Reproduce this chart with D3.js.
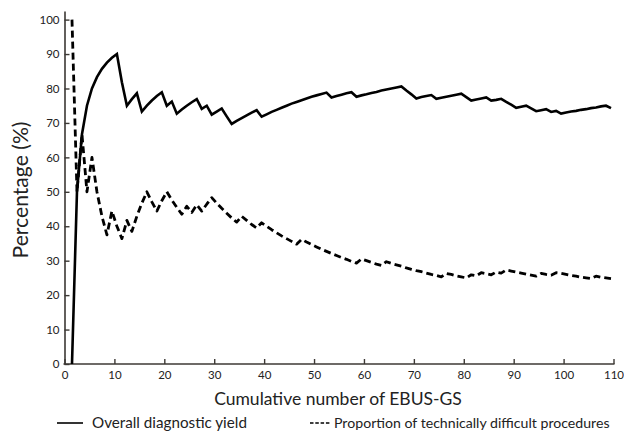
<!DOCTYPE html>
<html>
<head>
<meta charset="utf-8">
<script src="https://cdn.jsdelivr.net/npm/d3@7/dist/d3.min.js"></script>
<style>
  html, body { margin: 0; padding: 0; background: #fff; }
  svg { display: block; }
  text { font-family: Lato, "Open Sans", sans-serif; fill: #222; }
</style>
</head>
<body>
<svg id="chart" width="624" height="432"></svg>
<script>
// ---- data ----
const cases = [1,2,3,4,5,6,7,8,9,10,11,12,13,14,15,16,17,18,19,20,21,22,23,24,25,26,27,28,29,30,
  31,32,33,34,35,36,37,38,39,40,41,42,43,44,45,46,47,48,49,50,51,52,53,54,55,56,57,58,59,60,
  61,62,63,64,65,66,67,68,69,70,71,72,73,74,75,76,77,78,79,80,81,82,83,84,85,86,87,88,89,90,
  91,92,93,94,95,96,97,98,99,100,101,102,103,104,105,106,107,108,109];

const diagnosticYield = [0,50,66.7,75,80,83.3,85.7,87.5,88.9,90,81.8,75,76.9,78.6,73.3,75,76.5,77.8,78.9,75,
  76.2,72.7,73.9,75,76,76.9,74.1,75,72.4,73.3,74.2,71.9,69.7,70.6,71.4,72.2,73,73.7,71.8,72.5,
  73.2,73.8,74.4,75,75.6,76.1,76.6,77.1,77.6,78,78.4,78.8,77.4,77.8,78.2,78.6,78.9,77.6,78,78.3,
  78.7,79,79.4,79.7,80,80.3,80.6,79.4,78.3,77.1,77.5,77.8,78.1,77,77.3,77.6,77.9,78.2,78.5,77.5,
  76.5,76.8,77.1,77.4,76.5,76.7,77,76.1,75.3,74.4,74.7,75,74.2,73.4,73.7,74,73.2,73.5,72.7,73,
  73.3,73.5,73.8,74,74.3,74.5,74.8,75,74.3];

const difficultProportion = [100,50,66.7,50,60,50,42.9,37.5,44.4,40,36.4,41.7,38.5,42.9,46.7,50,47.1,44.4,47.4,50,
  47.6,45.5,43.5,45.8,44,46.2,44.4,46.4,48.3,46.7,45.2,43.8,42.4,41.2,42.9,41.7,40.5,39.5,41,40,
  39,38.1,37.2,36.4,35.6,34.8,36.2,35.4,34.7,34,33.3,32.7,32.1,31.5,30.9,30.4,29.8,29.3,30.5,30,
  29.5,29,28.6,29.7,29.2,28.8,28.4,27.9,27.5,27.1,26.8,26.4,26,25.7,25.3,26.3,26,25.6,25.3,25,
  25.9,25.6,26.5,26.2,25.9,26.7,26.4,27.3,27,26.7,26.4,26.1,25.8,25.5,26.3,26,25.8,26.5,26.3,26,
  25.7,25.5,25.2,25,24.8,25.5,25.2,25,24.8];

const xTicks = [0,10,20,30,40,50,60,70,80,90,100,110];
const yTicks = [0,10,20,30,40,50,60,70,80,90,100];
const xTitle = "Cumulative number of EBUS-GS";
const yTitle = "Percentage (%)";
const seriesNames = ["Overall diagnostic yield", "Proportion of technically difficult procedures"];

// ---- layout ----
const svg = d3.select("#chart");
const axisColor = "#3c3834";
const x = d3.scaleLinear().domain([0, 110]).range([64.5, 613.5]);
const y = d3.scaleLinear().domain([0, 102.5]).range([364, 11]);
const centre = 0.5; // points sit in the middle of each case slot

// axes
const gx = svg.append("g").attr("transform", `translate(0,${y(0)})`)
  .call(d3.axisBottom(x).tickValues(xTicks).tickSizeInner(-5).tickSizeOuter(0).tickPadding(7));
const gy = svg.append("g").attr("transform", `translate(${x(0)},0)`)
  .call(d3.axisLeft(y).tickValues(yTicks).tickSizeInner(-5).tickSizeOuter(0).tickPadding(5));
[gx, gy].forEach(g => {
  g.select(".domain").attr("stroke", axisColor).attr("stroke-width", 1.6);
  g.selectAll(".tick line").attr("stroke", axisColor).attr("stroke-width", 1.4);
  g.selectAll(".tick text").style("font-family", "Lato, 'Open Sans', sans-serif")
    .attr("font-size", 11.5).attr("fill", "#2a2a2a");
});
gx.select(".domain").attr("d", `M${x(0) - 1},0H${x(110) + 1}`);

// lines
const yieldData = cases.map((c, i) => ({ c, v: diagnosticYield[i] }));
const diffData = cases.map((c, i) => ({ c, v: difficultProportion[i] }));
const line = d3.line().x(d => x(d.c + centre)).y(d => y(d.v));

svg.append("path").datum(diffData).attr("d", line)
  .attr("fill", "none").attr("stroke", "#000").attr("stroke-width", 2.8)
  .attr("stroke-dasharray", "7,4").attr("stroke-linejoin", "round");
svg.append("path").datum(yieldData).attr("d", line)
  .attr("fill", "none").attr("stroke", "#000").attr("stroke-width", 2.6)
  .attr("stroke-linejoin", "miter");

// fit helper
function fit(t, target) {
  let fs = +t.attr("font-size");
  const w = t.node().getComputedTextLength();
  if (w > 0) t.attr("font-size", fs * target / w);
}

// titles
const xt = svg.append("text").attr("x", 338).attr("y", 405).attr("text-anchor", "middle")
  .attr("font-size", 17).attr("fill", "#111").text(xTitle);
fit(xt, 248);
const yt = svg.append("text").attr("transform", `translate(28,190) rotate(-90)`)
  .attr("text-anchor", "middle").attr("font-size", 17).attr("fill", "#111").text(yTitle);
fit(yt, 137);

// legend
const lg = svg.append("g");
lg.append("line").attr("x1", 57).attr("x2", 83).attr("y1", 423).attr("y2", 423)
  .attr("stroke", "#000").attr("stroke-width", 1.6);
const l1 = lg.append("text").attr("x", 92).attr("y", 427.5).attr("font-size", 13)
  .attr("fill", "#111").text(seriesNames[0]);
fit(l1, 155);
lg.append("line").attr("x1", 310).attr("x2", 331).attr("y1", 423).attr("y2", 423)
  .attr("stroke", "#000").attr("stroke-width", 1.6).attr("stroke-dasharray", "3.5,1.8");
const l2 = lg.append("text").attr("x", 334).attr("y", 427.5).attr("font-size", 13)
  .attr("fill", "#111").text(seriesNames[1]);
fit(l2, 276);
</script>
</body>
</html>
